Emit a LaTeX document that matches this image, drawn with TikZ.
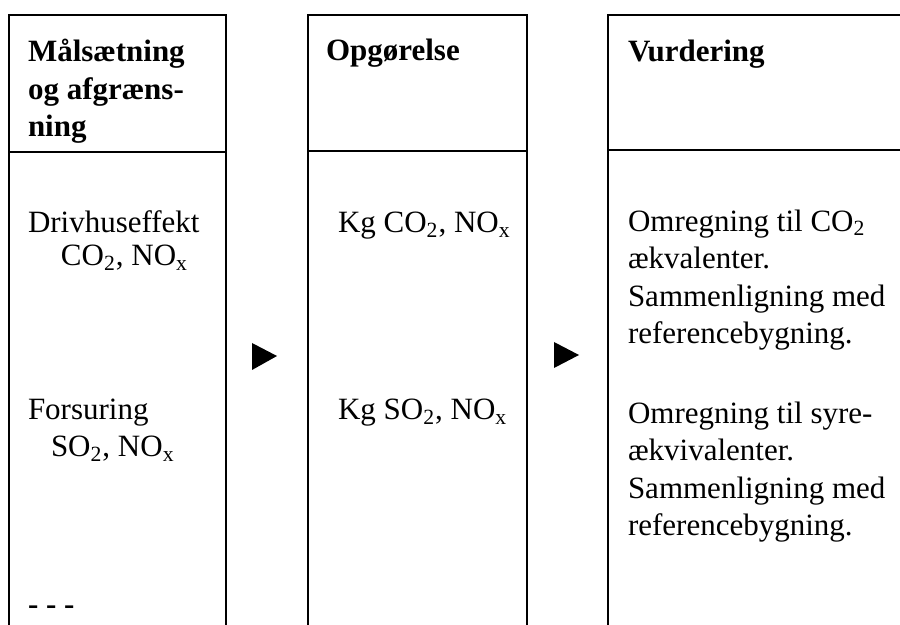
\documentclass[tikz,border=0pt]{standalone}
\usepackage{fontspec}
\setmainfont{Liberation Serif}
\begin{document}
\begin{tikzpicture}[x=0.5pt, y=-0.5pt, line width=1pt,
	txt/.style={anchor=base west, inner sep=0pt, font=\fontsize{15.5}{18.75}\selectfont, align=left},
	head/.style={txt, font=\fontsize{15.5}{18.75}\selectfont\bfseries}]
			\useasboundingbox (0,0) rectangle (900,625);
			% boxes
			\draw (9,625) |- (226,15) -- (226,625);
			\draw (9,152) -- (226,152);
			\draw (308,625) |- (527,15) -- (527,625);
			\draw (308,151) -- (527,151);
			\draw (608,625) |- (900,15);
			\draw (608,150) -- (900,150);
			% arrows
			\fill (252,343) -- (277,356) -- (252,370) -- cycle;
			\fill (554,342) -- (579,355) -- (554,368) -- cycle;
			% headers (multi-line nodes sit on their last baseline)
			\node[head] (H_0_0) at (27,137) {Målsætning\\og afgræns-\\ning};
			\node[head] (H_1_0) at (325,61) {Opgørelse};
			\node[head] (H_2_0) at (627,62) {Vurdering};
			% first column
			\node[txt] (P_0_0) at (27,233) {Drivhuseffekt};
			\node[txt] (P_0_1) at (60,266) {CO\textsubscript{2}, NO\textsubscript{x}};
			\node[txt] (P_0_2) at (27,420) {Forsuring};
			\node[txt] (P_0_3) at (50,457) {SO\textsubscript{2}, NO\textsubscript{x}};
			\node[txt, font=\fontsize{15.5}{18.75}\selectfont\bfseries] (P_0_4) at (27,614) {- - -};
			% second column
			\node[txt] (P_1_0) at (337,233) {Kg CO\textsubscript{2}, NO\textsubscript{x}};
			\node[txt] (P_1_1) at (337,420) {Kg SO\textsubscript{2}, NO\textsubscript{x}};
			% third column
			\node[txt] (P_2_0) at (627,344) {Omregning til CO\textsubscript{2}\\ækvalenter.\\Sammenligning med\\referencebygning.};
			\node[txt] (P_2_1) at (627,536) {Omregning til syre-\\ækvivalenter.\\Sammenligning med\\referencebygning.};
		\end{tikzpicture}
\end{document}
